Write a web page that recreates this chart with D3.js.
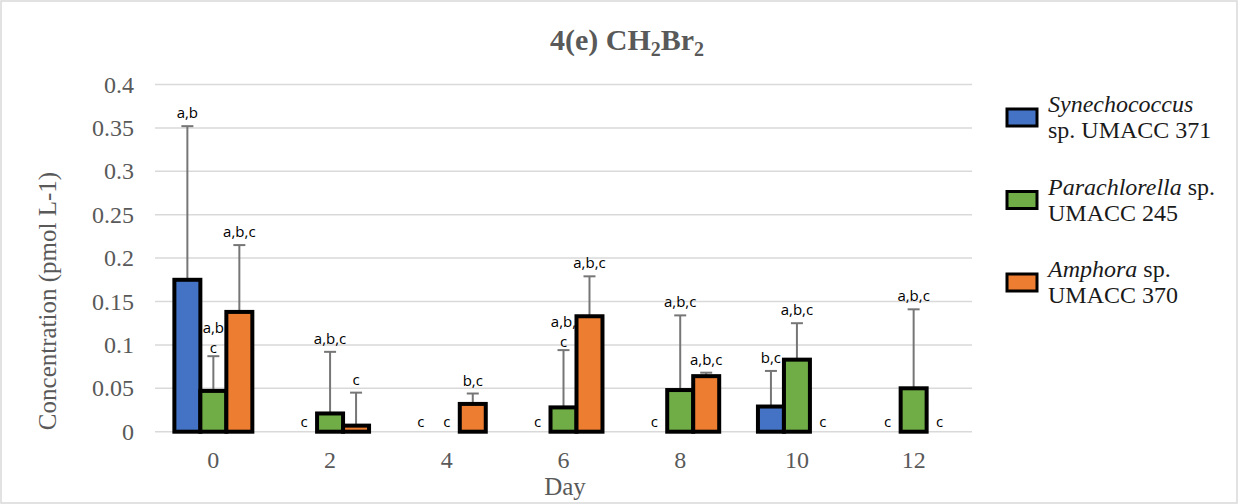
<!DOCTYPE html>
<html>
<head>
<meta charset="utf-8">
<script src="https://cdn.jsdelivr.net/npm/d3@7"></script>
<style>
  body { margin: 0; background: #fff; }
  svg { display: block; }
</style>
</head>
<body>
<script>
// data
const days = ["0", "2", "4", "6", "8", "10", "12"];
const seriesNames = ["Synechococcus", "Parachlorella", "Amphora"];
const synechococcus = [0.175, 0, 0, 0, 0, 0.029, 0];
const parachlorella = [0.047, 0.021, 0, 0.028, 0.048, 0.083, 0.050];
const amphora = [0.138, 0.007, 0.032, 0.133, 0.064, 0, 0];
// standard deviations (upper error bars)
const synechococcusErr = [0.177, 0, 0, 0, 0, 0.041, 0];
const parachlorellaErr = [0.040, 0.071, 0, 0.066, 0.086, 0.042, 0.091];
const amphoraErr = [0.077, 0.038, 0.012, 0.046, 0.004, 0, 0];
// significance letters
const synechococcusLbl = ["a,b", "c", "c", "c", "c", "b,c", "c"];
const parachlorellaLbl = ["a,b\nc", "a,b,c", "c", "a,b,\nc", "a,b,c", "a,b,c", "a,b,c"];
const amphoraLbl = ["a,b,c", "c", "b,c", "a,b,c", "a,b,c", "c", "c"];
const yTicks = [0, 0.05, 0.1, 0.15, 0.2, 0.25, 0.3, 0.35, 0.4];
const legendItems = [
  { italic: "Synechococcus", rest1: "", line2: "sp. UMACC 371" },
  { italic: "Parachlorella", rest1: " sp.", line2: "UMACC 245" },
  { italic: "Amphora", rest1: " sp.", line2: "UMACC 370" }
];

const colors = ["#4472C4", "#70AD47", "#ED7D31"];
const values = [synechococcus, parachlorella, amphora];
const errs = [synechococcusErr, parachlorellaErr, amphoraErr];
const lbls = [synechococcusLbl, parachlorellaLbl, amphoraLbl];

const width = 1238, height = 504;
const serif = "'Liberation Serif', 'Times New Roman', serif";
const sans = "'Open Sans', Calibri, sans-serif";

const svg = d3.select("body").append("svg")
  .attr("width", width)
  .attr("height", height);

// chart border
svg.append("rect")
  .attr("x", 1).attr("y", 1)
  .attr("width", width - 2).attr("height", height - 2)
  .attr("fill", "#fff")
  .attr("stroke", "#d9d9d9")
  .attr("stroke-width", 1.5);

const x0 = d3.scaleBand().domain(days).range([155, 972])
  .paddingInner(0.332).paddingOuter(0.166);
const x1 = d3.scaleBand().domain(seriesNames).range([0, x0.bandwidth()]);
const y = d3.scaleLinear().domain([0, 0.4]).range([431.7, 84.5]);

// gridlines
svg.append("g")
  .selectAll("line")
  .data(yTicks)
  .join("line")
  .attr("x1", 155).attr("x2", 972)
  .attr("y1", d => y(d)).attr("y2", d => y(d))
  .attr("stroke", "#d9d9d9")
  .attr("stroke-width", 1.5);

// y axis labels
svg.append("g")
  .selectAll("text")
  .data(yTicks)
  .join("text")
  .attr("x", 134)
  .attr("y", d => y(d) + 8)
  .attr("text-anchor", "end")
  .attr("font-family", serif)
  .attr("font-size", 24)
  .attr("fill", "#595959")
  .text(d => d3.format("~g")(d));

// x axis labels
svg.append("g")
  .selectAll("text")
  .data(days)
  .join("text")
  .attr("x", d => x0(d) + x0.bandwidth() / 2)
  .attr("y", 468)
  .attr("text-anchor", "middle")
  .attr("font-family", serif)
  .attr("font-size", 24)
  .attr("fill", "#595959")
  .text(d => d);

// axis titles
svg.append("text")
  .attr("x", 565).attr("y", 495)
  .attr("text-anchor", "middle")
  .attr("font-family", serif)
  .attr("font-size", 25)
  .attr("fill", "#595959")
  .text("Day");

svg.append("text")
  .attr("transform", "translate(56,301) rotate(-90)")
  .attr("text-anchor", "middle")
  .attr("font-family", serif)
  .attr("font-size", 25)
  .attr("fill", "#595959")
  .text("Concentration (pmol L-1)");

// title with subscripts
const title = svg.append("text")
  .attr("x", 627).attr("y", 50)
  .attr("text-anchor", "middle")
  .attr("font-family", serif)
  .attr("font-size", 30)
  .attr("font-weight", "bold")
  .attr("fill", "#595959");
title.append("tspan").text("4(e) CH");
title.append("tspan").attr("font-size", 20).attr("dy", 6).text("2");
title.append("tspan").attr("dy", -6).text("Br");
title.append("tspan").attr("font-size", 20).attr("dy", 6).text("2");

// flatten into bar records
const bars = [];
days.forEach((d, i) => {
  seriesNames.forEach((s, j) => {
    bars.push({ day: d, series: s, j, value: values[j][i], err: errs[j][i], label: lbls[j][i] });
  });
});

const groups = svg.append("g");

// error bars (drawn under bars)
const eb = groups.selectAll("g.err")
  .data(bars.filter(b => b.err > 0))
  .join("g")
  .attr("class", "err")
  .attr("transform", b => `translate(${x0(b.day) + x1(b.series) + x1.bandwidth() / 2},0)`);
eb.append("line")
  .attr("x1", 0).attr("x2", 0)
  .attr("y1", b => y(b.value)).attr("y2", b => y(b.value + b.err))
  .attr("stroke", "#767676").attr("stroke-width", 2);
eb.append("line")
  .attr("x1", -6).attr("x2", 6)
  .attr("y1", b => y(b.value + b.err)).attr("y2", b => y(b.value + b.err))
  .attr("stroke", "#767676").attr("stroke-width", 2);

// bars
groups.selectAll("rect.bar")
  .data(bars.filter(b => b.value > 0))
  .join("rect")
  .attr("class", "bar")
  .attr("x", b => x0(b.day) + x1(b.series))
  .attr("y", b => y(b.value))
  .attr("width", x1.bandwidth())
  .attr("height", b => y(0) - y(b.value))
  .attr("fill", b => colors[b.j])
  .attr("stroke", "#000")
  .attr("stroke-width", 4);

// letters above bars
const lab = groups.selectAll("text.lbl")
  .data(bars)
  .join("text")
  .attr("class", "lbl")
  .attr("text-anchor", "middle")
  .attr("font-family", sans)
  .attr("font-size", 15)
  .attr("fill", "#000");
lab.each(function(b) {
  const lines = b.label.split("\n");
  const cx = x0(b.day) + x1(b.series) + x1.bandwidth() / 2;
  const top = y(b.value + b.err);
  const base = b.value === 0 ? y(0) - 5 : (lines.length > 1 ? top - 3 : top - 8);
  lines.forEach((t, k) => {
    d3.select(this).append("tspan")
      .attr("x", cx)
      .attr("y", base - (lines.length - 1 - k) * 20)
      .text(t);
  });
});

// legend
const leg = svg.append("g");
legendItems.forEach((it, i) => {
  const by = 112 + i * 82.5;
  leg.append("rect")
    .attr("x", 1007).attr("y", by - 3)
    .attr("width", 30).attr("height", 17)
    .attr("fill", colors[i])
    .attr("stroke", "#000")
    .attr("stroke-width", 3);
  const t = leg.append("text")
    .attr("x", 1048).attr("y", by)
    .attr("font-family", serif)
    .attr("font-size", 24)
    .attr("fill", "#1a1a1a");
  t.append("tspan").attr("font-style", "italic").text(it.italic);
  t.append("tspan").text(it.rest1);
  leg.append("text")
    .attr("x", 1048).attr("y", by + 26)
    .attr("font-family", serif)
    .attr("font-size", 24)
    .attr("fill", "#1a1a1a")
    .text(it.line2);
});
</script>
</body>
</html>
